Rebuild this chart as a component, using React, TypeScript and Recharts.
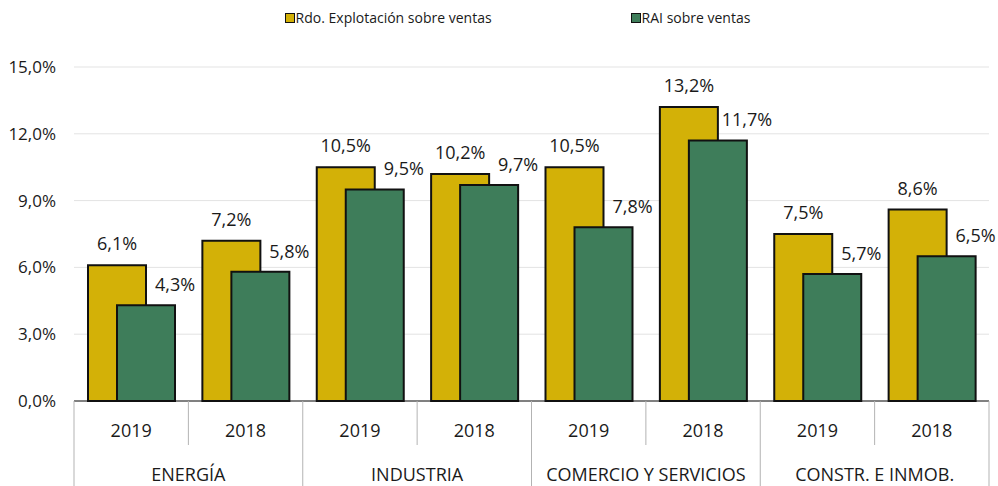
import { BarChart, Bar, XAxis, YAxis, CartesianGrid, LabelList } from "recharts";

const groups = ["ENERGÍA", "INDUSTRIA", "COMERCIO Y SERVICIOS", "CONSTR. E INMOB."];
const years = ["2019", "2018"];
const rdoExplotacion = [6.1, 7.2, 10.5, 10.2, 10.5, 13.2, 7.5, 8.6];
const raiVentas = [4.3, 5.8, 9.5, 9.7, 7.8, 11.7, 5.7, 6.5];
const yTicks = [0, 3, 6, 9, 12, 15];

const data = rdoExplotacion.map((v, i) => ({
  id: `${groups[Math.floor(i / 2)]}-${years[i % 2]}`,
  year: years[i % 2],
  group: groups[Math.floor(i / 2)],
  rdo: v,
  rai: raiVentas[i],
}));

const W = 998;
const H = 486;
const MARGIN = { top: 67, right: 9, left: 0, bottom: 0 };
const Y_WIDTH = 74;
const X_HEIGHT = 85;
const BAND = (W - MARGIN.left - MARGIN.right - Y_WIDTH) / data.length;

const FONT = "'Open Sans', sans-serif";
const YELLOW = "#d3b107";
const GREEN = "#3e7d5a";
const SEP = "#b3b3b3";

const pct = (v: number) => v.toFixed(1).replace(".", ",") + "%";

const XTick = (props: any) => {
  const { x, y, payload } = props;
  const i = payload.index;
  const d = data[i];
  const odd = i % 2 === 1;
  return (
    <g>
      {i === 0 && <line x1={x - BAND / 2} x2={x - BAND / 2} y1={y} y2={y + X_HEIGHT} stroke={SEP} />}
      <line x1={x + BAND / 2} x2={x + BAND / 2} y1={y} y2={odd ? y + X_HEIGHT : y + 44} stroke={SEP} />
      <text x={x} y={y + 36} textAnchor="middle" fontSize={18} fill="#1a1a1a" fontFamily={FONT}>
        {d.year}
      </text>
      {!odd && (
        <text x={x + BAND / 2} y={y + 80} textAnchor="middle" fontSize={18} fill="#1a1a1a" fontFamily={FONT}>
          {d.group}
        </text>
      )}
    </g>
  );
};

// green labels sit over the right edge of the green bar, like the original
const GreenLabel = (props: any) => {
  const { x, y, width, value } = props;
  return (
    <text x={x + width} y={y - 14} textAnchor="middle" fontSize={18} fill="#1a1a1a" fontFamily={FONT}>
      {pct(value)}
    </text>
  );
};

const YellowLabel = (props: any) => {
  const { x, y, width, value } = props;
  return (
    <text x={x + width / 2} y={y - 15} textAnchor="middle" fontSize={18} fill="#1a1a1a" fontFamily={FONT}>
      {pct(value)}
    </text>
  );
};

const legendItems = [
  { name: "Rdo. Explotación sobre ventas", color: YELLOW },
  { name: "RAI sobre ventas", color: GREEN },
];

export default function App() {
  return (
    <div style={{ position: "absolute", left: 0, top: 0, width: W, height: H, background: "#fff", fontFamily: FONT }}>
      <div
        style={{
          position: "absolute",
          top: 8,
          left: 60,
          width: 915,
          display: "flex",
          justifyContent: "center",
          gap: 139,
          fontSize: 14,
          color: "#1a1a1a",
        }}
      >
        {legendItems.map((it) => (
          <div key={it.name} style={{ display: "flex", alignItems: "center" }}>
            <span
              style={{
                display: "inline-block",
                width: 8,
                height: 8,
                background: it.color,
                border: "1.5px solid #111",
                marginRight: 1,
              }}
            />
            {it.name}
          </div>
        ))}
      </div>
      <BarChart width={W} height={H} data={data} margin={MARGIN} barSize={58} barGap={-29}>
        <CartesianGrid vertical={false} stroke="#e3e3e3" />
        <XAxis
          dataKey="id"
          height={X_HEIGHT}
          axisLine={{ stroke: "#111" }}
          tickLine={false}
          tickSize={0}
          tickMargin={0}
          interval={0}
          tick={<XTick />}
        />
        <YAxis
          width={Y_WIDTH}
          domain={[0, 15]}
          ticks={yTicks}
          axisLine={false}
          tickLine={false}
          tickSize={0}
          tickMargin={18}
          tickFormatter={pct}
          tick={{ fontSize: 17, fill: "#1a1a1a", fontFamily: FONT }}
        />
        <Bar dataKey="rdo" fill={YELLOW} stroke="#111" strokeWidth={2} isAnimationActive={false}>
          <LabelList dataKey="rdo" content={<YellowLabel />} />
        </Bar>
        <Bar dataKey="rai" fill={GREEN} stroke="#111" strokeWidth={2} isAnimationActive={false}>
          <LabelList dataKey="rai" content={<GreenLabel />} />
        </Bar>
      </BarChart>
    </div>
  );
}
